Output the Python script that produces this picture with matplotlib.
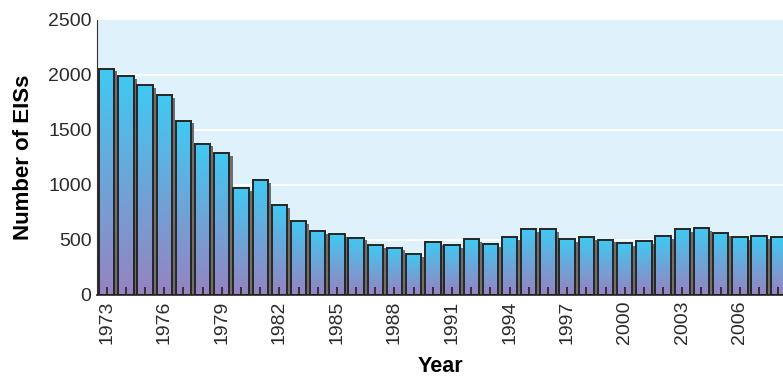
import numpy as np
import matplotlib
matplotlib.use("Agg")
import matplotlib.pyplot as plt
from matplotlib.colors import LinearSegmentedColormap

plt.rcParams['font.family'] = ['Liberation Sans', 'DejaVu Sans']

# EIS counts per year
years = list(range(1973, 2009))
eis_counts = [2055, 1990, 1909, 1818, 1582, 1373, 1291, 973, 1045, 818, 673, 576,
              552, 521, 452, 430, 370, 476, 455, 506, 464, 527, 600, 594,
              506, 524, 503, 467, 485, 536, 597, 603, 561, 524, 536, 524]
tick_labels = [str(y) if (y - 1973) % 3 == 0 else '' for y in years]
y_ticks = [0, 500, 1000, 1500, 2000, 2500]

fig = plt.figure(figsize=(7.83, 3.79), dpi=100)
ax = fig.add_axes([0.124, 0.222, 0.876, 0.726])
ax.set_facecolor('#dff1fb')

for v in y_ticks[1:-1]:
    ax.axhline(v, color='white', lw=1.3, zorder=0.8)

cmap = LinearSegmentedColormap.from_list('bar', ['#9683c0', '#6ea4d8', '#40c9f3'])
grad = np.linspace(0, 1, 256).reshape(-1, 1)
w = 0.8
# shadow behind each bar
ax.bar(np.array(years) + 0.16, np.array(eis_counts) - 25, width=w,
       color='#6e6e6e', zorder=1.1)
for x, h in zip(years, eis_counts):
    ax.imshow(grad, extent=[x - w / 2, x + w / 2, 0, h], origin='lower',
              aspect='auto', cmap=cmap, zorder=1.2, interpolation='bilinear')
ax.bar(years, eis_counts, width=w, fill=False, edgecolor='#262626',
       linewidth=1.4, zorder=1.4)

ax.set_axisbelow(False)
ax.set_xlim(1972.5, 2008.25)
ax.set_ylim(0, 2500)
ax.set_xticks(years)
ax.set_xticklabels(tick_labels, rotation=90, fontsize=14, color='#2a2a2a')
ax.set_yticks(y_ticks)
ax.set_yticklabels([str(v) for v in y_ticks], fontsize=14, color='#2a2a2a')
ax.tick_params(axis='x', direction='in', length=6, width=1.2, color='#222222', pad=4)
ax.tick_params(axis='y', length=0, pad=4)

for s in ['top', 'right']:
    ax.spines[s].set_visible(False)
ax.spines['left'].set_color('#333333')
ax.spines['bottom'].set_color('#222222')
ax.spines['bottom'].set_linewidth(1.2)

ax.set_xlabel('Year', fontsize=15.5, fontweight='bold', labelpad=9)
ax.set_ylabel('Number of EISs', fontsize=16, fontweight='bold', labelpad=10)

fig.savefig('out.png', dpi=100)
